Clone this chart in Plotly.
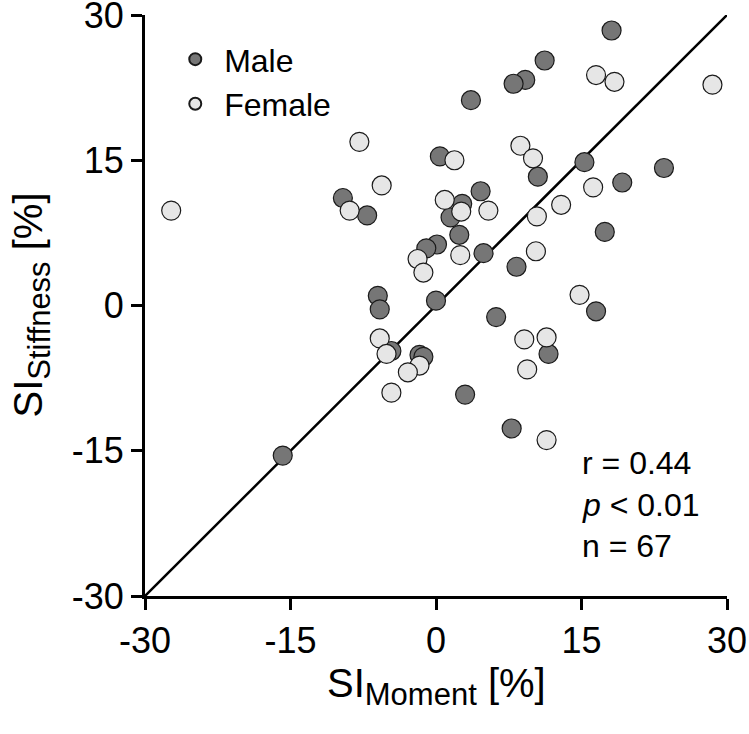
import plotly.graph_objects as go

# ---- data ----
male_x = [18.1, 11.2, 9.2, 8.0, 3.6, 0.4, 15.3, 23.5, 19.2, 10.5, 4.6, -9.6, -7.1,
          2.7, 1.5, 2.4, 0.1, -1.0, 4.9, 8.3, 17.4, -6.0, -5.8, 0.0, 6.2, 16.5,
          -4.6, -1.7, -1.3, 3.0, 11.6, 7.8, -15.8]
male_y = [28.4, 25.3, 23.3, 22.9, 21.2, 15.4, 14.8, 14.2, 12.7, 13.3, 11.8, 11.1, 9.3,
          10.5, 9.1, 7.3, 6.3, 5.9, 5.4, 4.0, 7.6, 1.0, -0.4, 0.5, -1.2, -0.6,
          -4.7, -5.1, -5.3, -9.2, -5.0, -12.7, -15.5]

female_x = [16.5, 18.4, 28.5, -7.9, 8.7, 10.0, 1.9, -5.6, 16.2, 12.9, 0.9, -8.9,
            -27.3, 2.6, 5.4, 10.4, 10.3, 2.5, -1.9, -1.3, 14.8, -5.8, -5.1, -1.7,
            -2.9, -4.6, 9.1, 11.4, 9.4, 11.4]
female_y = [23.8, 23.1, 22.8, 16.9, 16.5, 15.2, 15.0, 12.4, 12.2, 10.4, 10.9, 9.8,
            9.8, 9.7, 9.8, 9.2, 5.6, 5.2, 4.8, 3.4, 1.1, -3.4, -5.0, -6.2,
            -6.9, -9.0, -3.5, -3.3, -6.6, -13.9]

axis_range = [-30, 30]
tick_vals = [-30, -15, 0, 15, 30]
tick_text = ["-30", "-15", "0", "15", "30"]
stats_lines = ["r = 0.44", "<i>p</i> < 0.01", "n = 67"]
stats_y = [-16.3, -20.6, -24.8]

FONT = "Liberation Sans, Arial, sans-serif"
SUB = '<sub><span style="font-size:31px">{}</span></sub>'

fig = go.Figure()

# identity line spanning the axis range
fig.add_trace(go.Scatter(x=axis_range, y=axis_range, mode="lines",
                         line=dict(color="black", width=2.5),
                         showlegend=False, hoverinfo="skip"))

fig.add_trace(go.Scatter(x=male_x, y=male_y, mode="markers", name=" Male",
                         marker=dict(size=19, color="#767676",
                                     line=dict(color="#1a1a1a", width=1.2)),
                         cliponaxis=False))
fig.add_trace(go.Scatter(x=female_x, y=female_y, mode="markers", name=" Female",
                         marker=dict(size=19, color="#e6e6e6",
                                     line=dict(color="#1a1a1a", width=1.2)),
                         cliponaxis=False))

for txt, yy in zip(stats_lines, stats_y):
    fig.add_annotation(x=14.8, y=yy, xref="x", yref="y", text=txt,
                       showarrow=False, xanchor="left", yanchor="middle",
                       font=dict(family=FONT, size=32, color="black"))

# axis titles
fig.add_annotation(x=0.5, y=0, xref="paper", yref="paper",
                   text="SI" + SUB.format("Moment") + " [%]",
                   showarrow=False, xanchor="center", yanchor="middle",
                   yshift=-90, font=dict(family=FONT, size=40, color="black"))
fig.add_annotation(x=0, y=0.5, xref="paper", yref="paper",
                   text="SI" + SUB.format("Stiffness") + " [%]",
                   textangle=-90, showarrow=False, xanchor="center",
                   yanchor="middle", xshift=-114,
                   font=dict(family=FONT, size=40, color="black"))

axis_common = dict(range=axis_range, tickmode="array", tickvals=tick_vals,
                   ticktext=tick_text, showgrid=False, zeroline=False,
                   showline=True, linecolor="black", linewidth=3,
                   ticks="outside", ticklen=11, tickwidth=3, tickcolor="black",
                   tickfont=dict(family=FONT, size=36, color="black"),
                   ticklabeloverflow="allow", automargin=False,
                   mirror=False)

fig.update_layout(
    width=749, height=734,
    margin=dict(l=145, r=22, t=15, b=138),
    plot_bgcolor="white", paper_bgcolor="white",
    xaxis=dict(**axis_common),
    yaxis=dict(**axis_common),
    legend=dict(x=0.052, y=0.971, xanchor="left", yanchor="top",
                itemsizing="constant", bgcolor="rgba(0,0,0,0)",
                font=dict(family=FONT, size=32, color="black"),
                tracegroupgap=0),
    showlegend=True,
)

fig.write_html("out.html",
               config={"displayModeBar": False},
               post_script="document.body.style.margin='0';"
                           "document.body.style.overflow='hidden';")
